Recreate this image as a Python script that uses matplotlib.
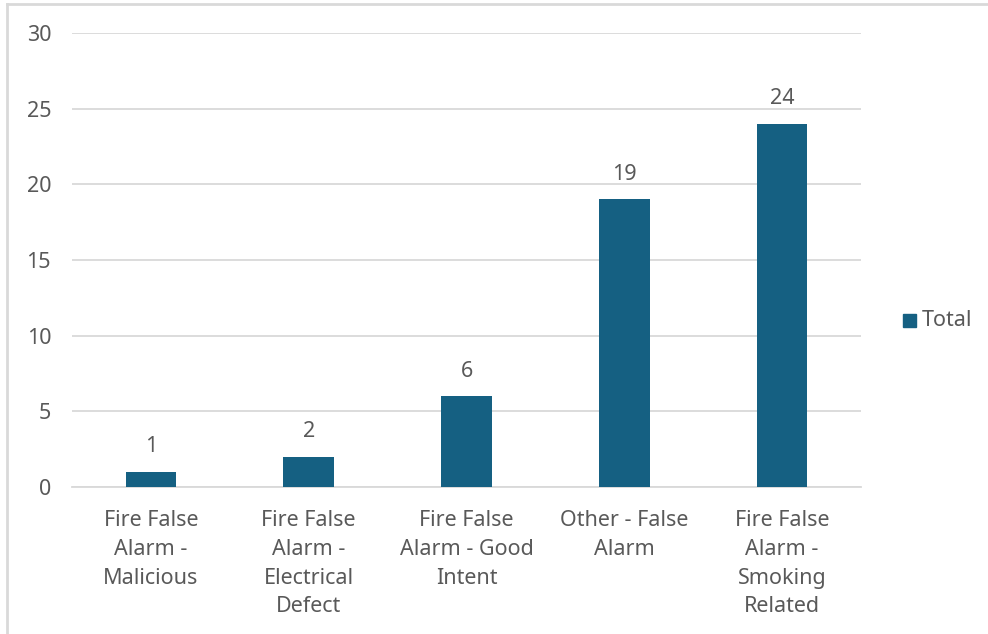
import matplotlib
matplotlib.use("Agg")
import matplotlib.pyplot as plt
from matplotlib.patches import Rectangle
from matplotlib.lines import Line2D
import numpy as np

# data
categories = ["Fire False\nAlarm -\nMalicious",
              "Fire False\nAlarm -\nElectrical\nDefect",
              "Fire False\nAlarm - Good\nIntent",
              "Other - False\nAlarm",
              "Fire False\nAlarm -\nSmoking\nRelated"]
totals = [1, 2, 6, 19, 24]
y_ticks = [0, 5, 10, 15, 20, 25, 30]

BAR = "#156082"
TXT = "#595959"
GRID = "#d9d9d9"
FS = 15.5

plt.rcParams['font.family'] = ['Noto Sans', 'DejaVu Sans']

fig = plt.figure(figsize=(9.88, 6.34), dpi=100)
W, H = 988, 634
ax = fig.add_axes([72 / W, 1 - 487 / H, (861 - 72) / W, (487 - 33) / H])

x = np.arange(len(categories))
bars = ax.bar(x, totals, width=0.32, color=BAR, zorder=3)
for b, v in zip(bars, totals):
    ax.annotate(str(v), (b.get_x() + b.get_width() / 2, v),
                xytext=(0, 18), textcoords="offset points",
                ha="center", va="center", fontsize=FS, color=TXT)

ax.set_xlim(-0.5, len(categories) - 0.5)
ax.set_ylim(0, 30)
ax.set_yticks(y_ticks)
ax.set_yticklabels([str(t) for t in y_ticks], fontsize=FS, color=TXT)
ax.set_xticks(x)
ax.set_xticklabels(categories, fontsize=FS, color=TXT, linespacing=1.49, va="top")
ax.tick_params(axis="both", length=0)
ax.tick_params(axis="y", pad=15)
ax.tick_params(axis="x", pad=16.5)
ax.yaxis.grid(True, color=GRID, linewidth=1.3, zorder=0)
for s in ["top", "right", "left"]:
    ax.spines[s].set_visible(False)
ax.spines["bottom"].set_color(GRID)
ax.spines["bottom"].set_linewidth(1.3)

# legend
fig.patches.append(Rectangle((903 / W, 1 - 327 / H), 13 / W, 13 / H,
                             transform=fig.transFigure, color=BAR))
fig.text(922 / W, 1 - 320 / H, "Total", fontsize=FS, color=TXT, va="center")

# frame edges
fig.add_artist(Line2D([7 / W, 7 / W], [0, 1 - 4 / H], transform=fig.transFigure,
                      color="#d9d9d9", linewidth=2))
fig.add_artist(Line2D([7 / W, 1], [1 - 4 / H, 1 - 4 / H], transform=fig.transFigure,
                      color="#d9d9d9", linewidth=2))

fig.savefig("out.png", dpi=100)
